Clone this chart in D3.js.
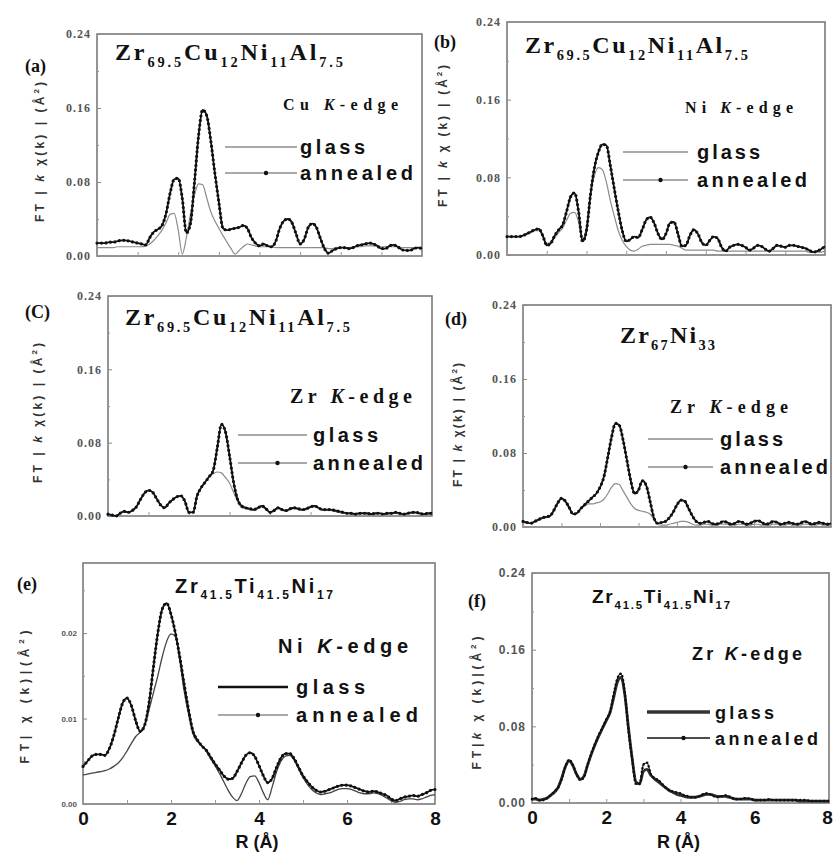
<!DOCTYPE html>
<html>
<head>
<meta charset="utf-8">
<script src="https://cdn.jsdelivr.net/npm/d3@7"></script>
<style>
  body { margin: 0; background: #fff; }
  svg { display: block; }
</style>
</head>
<body>
<div id="fig"></div>
<script>
// R grid (Å), 0.1 step
const rGrid = d3.range(81).map(i => i / 10);

// (a) Zr69.5Cu12Ni11Al7.5, Cu K-edge
const aGlass = [
  0.009,0.009,0.009,0.009,0.009,0.010,0.010,0.010,0.010,0.010,
  0.010,0.010,0.011,0.013,0.017,0.022,0.028,0.036,0.045,0.046,
  0.028,0.002,0.020,0.045,0.066,0.078,0.077,0.063,0.048,0.038,
  0.030,0.022,0.015,0.008,0.002,0.006,0.010,0.013,0.012,0.011,
  0.010,0.010,0.010,0.010,0.009,0.009,0.009,0.009,0.009,0.009,
  0.009,0.009,0.009,0.009,0.009,0.009,0.009,0.008,0.008,0.009,
  0.009,0.009,0.009,0.010,0.010,0.010,0.011,0.011,0.011,0.010,
  0.010,0.010,0.010,0.010,0.010,0.009,0.009,0.009,0.009,0.009,
  0.009];
const aAnnealed = [
  0.014,0.014,0.014,0.015,0.015,0.016,0.017,0.017,0.016,0.015,
  0.014,0.013,0.012,0.020,0.026,0.029,0.033,0.046,0.068,0.083,
  0.084,0.062,0.025,0.035,0.080,0.130,0.158,0.152,0.125,0.090,
  0.058,0.030,0.028,0.029,0.030,0.031,0.033,0.030,0.020,0.014,
  0.011,0.013,0.011,0.010,0.016,0.030,0.038,0.040,0.036,0.024,
  0.013,0.018,0.031,0.035,0.031,0.019,0.008,0.003,0.006,0.008,
  0.009,0.009,0.008,0.009,0.011,0.012,0.013,0.014,0.013,0.011,
  0.008,0.008,0.011,0.012,0.010,0.007,0.006,0.006,0.008,0.009,
  0.008];

// (b) Zr69.5Cu12Ni11Al7.5, Ni K-edge
const bGlass = [
  0.019,0.019,0.019,0.019,0.020,0.021,0.023,0.025,0.025,0.019,
  0.012,0.013,0.018,0.023,0.028,0.036,0.043,0.044,0.034,0.015,
  0.030,0.062,0.082,0.090,0.088,0.075,0.056,0.040,0.025,0.015,
  0.009,0.005,0.004,0.006,0.009,0.010,0.011,0.011,0.011,0.011,
  0.011,0.011,0.010,0.009,0.007,0.005,0.005,0.005,0.005,0.005,
  0.005,0.005,0.005,0.004,0.004,0.004,0.004,0.004,0.004,0.004,
  0.004,0.004,0.004,0.004,0.004,0.004,0.004,0.004,0.004,0.004,
  0.004,0.004,0.004,0.004,0.004,0.004,0.003,0.003,0.003,0.003,
  0.004];
const bAnnealed = [
  0.019,0.019,0.019,0.019,0.020,0.022,0.024,0.026,0.027,0.020,
  0.010,0.012,0.020,0.026,0.031,0.045,0.060,0.064,0.045,0.014,
  0.025,0.062,0.090,0.106,0.114,0.113,0.092,0.068,0.045,0.025,
  0.014,0.016,0.019,0.018,0.026,0.036,0.039,0.033,0.022,0.016,
  0.022,0.033,0.034,0.022,0.009,0.010,0.020,0.026,0.022,0.013,
  0.010,0.015,0.019,0.017,0.008,0.004,0.008,0.010,0.011,0.010,
  0.008,0.005,0.007,0.010,0.009,0.006,0.004,0.007,0.010,0.009,
  0.008,0.010,0.010,0.009,0.008,0.007,0.005,0.003,0.004,0.006,
  0.009];

// (c) Zr69.5Cu12Ni11Al7.5, Zr K-edge
const cGlass = [
  0.002,0.001,0.000,0.003,0.005,0.004,0.006,0.010,0.018,0.025,
  0.028,0.026,0.019,0.012,0.009,0.014,0.018,0.021,0.022,0.016,
  0.004,0.004,0.022,0.031,0.037,0.043,0.046,0.048,0.047,0.042,
  0.036,0.026,0.016,0.009,0.008,0.007,0.006,0.008,0.010,0.007,
  0.004,0.005,0.008,0.006,0.005,0.007,0.008,0.007,0.006,0.007,
  0.009,0.010,0.008,0.006,0.006,0.006,0.005,0.004,0.003,0.003,
  0.002,0.002,0.002,0.003,0.002,0.002,0.002,0.003,0.002,0.002,
  0.003,0.003,0.002,0.002,0.002,0.003,0.003,0.002,0.002,0.002,
  0.002];
const cAnnealed = [
  0.002,0.001,0.000,0.003,0.005,0.004,0.006,0.010,0.018,0.025,
  0.028,0.026,0.019,0.012,0.009,0.014,0.018,0.021,0.022,0.016,
  0.004,0.004,0.022,0.031,0.037,0.043,0.050,0.075,0.100,0.092,
  0.066,0.037,0.018,0.011,0.009,0.008,0.007,0.009,0.011,0.008,
  0.004,0.006,0.009,0.007,0.006,0.008,0.009,0.008,0.007,0.008,
  0.010,0.011,0.009,0.007,0.007,0.007,0.006,0.005,0.004,0.003,
  0.003,0.002,0.003,0.003,0.003,0.002,0.003,0.003,0.002,0.003,
  0.003,0.004,0.003,0.002,0.003,0.004,0.004,0.003,0.002,0.003,
  0.003];

// (d) Zr67Ni33, Zr K-edge
const dGlass = [
  0.005,0.004,0.004,0.005,0.007,0.009,0.010,0.011,0.017,0.025,
  0.030,0.027,0.020,0.014,0.015,0.019,0.023,0.025,0.025,0.026,
  0.027,0.030,0.036,0.043,0.047,0.046,0.039,0.032,0.025,0.020,
  0.018,0.017,0.016,0.014,0.008,0.003,0.002,0.002,0.003,0.004,
  0.005,0.006,0.006,0.005,0.003,0.002,0.002,0.003,0.003,0.002,
  0.002,0.003,0.003,0.003,0.002,0.002,0.003,0.003,0.002,0.002,
  0.003,0.003,0.002,0.002,0.002,0.003,0.003,0.002,0.002,0.003,
  0.002,0.002,0.002,0.003,0.003,0.002,0.002,0.003,0.002,0.002,
  0.002];
const dAnnealed = [
  0.006,0.005,0.004,0.006,0.008,0.010,0.011,0.012,0.018,0.026,
  0.031,0.028,0.021,0.014,0.015,0.020,0.024,0.028,0.032,0.036,
  0.043,0.054,0.075,0.097,0.112,0.110,0.094,0.072,0.050,0.036,
  0.040,0.050,0.045,0.028,0.010,0.004,0.005,0.006,0.010,0.016,
  0.024,0.029,0.028,0.020,0.012,0.006,0.004,0.005,0.006,0.004,
  0.003,0.004,0.006,0.005,0.003,0.004,0.006,0.005,0.003,0.004,
  0.006,0.007,0.005,0.003,0.004,0.006,0.005,0.003,0.004,0.005,
  0.004,0.003,0.004,0.006,0.005,0.003,0.004,0.005,0.004,0.003,
  0.004];

// (e) Zr41.5Ti41.5Ni17, Ni K-edge
const eGlass = [
  0.0034,0.0035,0.0036,0.0037,0.0038,0.0039,0.0041,0.0044,0.0048,0.0054,
  0.0062,0.0071,0.0079,0.0084,0.0092,0.0110,0.0130,0.0150,0.0172,0.0190,
  0.0199,0.0196,0.0168,0.0132,0.0105,0.0082,0.0073,0.0068,0.0062,0.0053,
  0.0045,0.0036,0.0026,0.0016,0.0008,0.0004,0.0012,0.0024,0.0032,0.0033,
  0.0025,0.0013,0.0005,0.0020,0.0038,0.0050,0.0056,0.0057,0.0051,0.0041,
  0.0031,0.0023,0.0017,0.0013,0.0011,0.0012,0.0013,0.0015,0.0017,0.0018,
  0.0018,0.0017,0.0015,0.0013,0.0012,0.0012,0.0013,0.0012,0.0010,0.0007,
  0.0004,0.0002,0.0003,0.0005,0.0006,0.0006,0.0005,0.0006,0.0008,0.0010,
  0.0011];
const eAnnealed = [
  0.0044,0.0050,0.0056,0.0058,0.0058,0.0057,0.0065,0.0080,0.0100,0.0118,
  0.0124,0.0115,0.0097,0.0085,0.0092,0.0118,0.0160,0.0200,0.0228,0.0235,
  0.0222,0.0200,0.0172,0.0140,0.0110,0.0085,0.0075,0.0068,0.0063,0.0055,
  0.0047,0.0040,0.0033,0.0029,0.0030,0.0038,0.0048,0.0057,0.0060,0.0056,
  0.0045,0.0033,0.0025,0.0030,0.0043,0.0054,0.0059,0.0059,0.0053,0.0043,
  0.0033,0.0026,0.0020,0.0016,0.0014,0.0015,0.0017,0.0019,0.0021,0.0022,
  0.0022,0.0021,0.0019,0.0017,0.0015,0.0014,0.0015,0.0014,0.0012,0.0010,
  0.0006,0.0004,0.0006,0.0008,0.0009,0.0010,0.0009,0.0011,0.0013,0.0016,
  0.0017];

// (f) Zr41.5Ti41.5Ni17, Zr K-edge
const fGlass = [
  0.004,0.004,0.003,0.004,0.005,0.008,0.011,0.016,0.026,0.038,
  0.044,0.039,0.030,0.025,0.028,0.040,0.051,0.061,0.070,0.078,
  0.086,0.094,0.110,0.126,0.131,0.113,0.078,0.046,0.022,0.020,
  0.033,0.035,0.029,0.025,0.022,0.019,0.016,0.013,0.011,0.009,
  0.008,0.007,0.006,0.006,0.006,0.007,0.008,0.009,0.009,0.008,
  0.007,0.007,0.007,0.006,0.005,0.004,0.004,0.004,0.004,0.004,
  0.003,0.003,0.003,0.003,0.003,0.003,0.003,0.003,0.003,0.003,
  0.003,0.003,0.002,0.002,0.002,0.002,0.002,0.002,0.002,0.002,
  0.002];
const fAnnealed = [
  0.004,0.005,0.003,0.003,0.005,0.008,0.012,0.016,0.025,0.038,
  0.045,0.040,0.030,0.024,0.027,0.040,0.052,0.062,0.071,0.079,
  0.087,0.095,0.113,0.130,0.135,0.115,0.075,0.045,0.020,0.020,
  0.040,0.042,0.030,0.026,0.024,0.020,0.016,0.013,0.012,0.011,
  0.010,0.008,0.007,0.006,0.006,0.007,0.009,0.010,0.009,0.007,
  0.006,0.007,0.008,0.007,0.005,0.004,0.004,0.005,0.005,0.004,
  0.003,0.003,0.003,0.003,0.004,0.003,0.003,0.003,0.003,0.003,
  0.003,0.003,0.003,0.003,0.003,0.002,0.002,0.002,0.002,0.002,
  0.002];

// tick values
const xTicks = [0, 1, 2, 3, 4, 5, 6, 7, 8];
const yTicksStd = [0, 0.08, 0.16, 0.24];
const yMinorStd = [0.04, 0.12, 0.20];
const yTicksE = [0, 0.01, 0.02];
const yMinorE = [0.005, 0.015, 0.025];

// text labels
const alloyCuNiAl = [["Zr"], ["69.5", "s"], ["Cu"], ["12", "s"], ["Ni"], ["11", "s"], ["Al"], ["7.5", "s"]];
const alloyZrNi = [["Zr"], ["67", "s"], ["Ni"], ["33", "s"]];
const alloyZrTiNi = [["Zr"], ["41.5", "s"], ["Ti"], ["41.5", "s"], ["Ni"], ["17", "s"]];
const legendNames = ["glass", "annealed"];

const W = 833, H = 859;
const SERIF = "'Liberation Serif', 'DejaVu Serif', serif";
const SANS = "'Liberation Sans', Arial, sans-serif";

const svg = d3.select("#fig").append("svg")
  .attr("width", W).attr("height", H)
  .attr("viewBox", `0 0 ${W} ${H}`);
svg.append("rect").attr("width", W).attr("height", H).attr("fill", "#fff");

function rich(sel, parts, o) {
  const t = sel.append("text")
    .attr("x", o.x).attr("y", o.y)
    .attr("font-family", o.family)
    .attr("font-weight", o.weight || "bold")
    .attr("font-size", o.size)
    .attr("fill", o.fill || "#111");
  if (o.len) t.attr("textLength", o.len).attr("lengthAdjust", "spacing");
  let shift = 0;
  parts.forEach(([s, k]) => {
    const sp = t.append("tspan").text(s);
    const want = k === "s" ? o.sub : 0;
    if (want !== shift) { sp.attr("dy", want - shift); shift = want; }
    if (k === "s") sp.attr("font-size", o.size * 0.6);
    if (k === "i") sp.attr("font-style", "italic");
  });
  return t;
}

const panels = [
  { label: "(a)", lab: [25, 72], glass: aGlass, annealed: aAnnealed,
    x0: 97, x1: 422, y0: 34, y1: 256, yMax: 0.24, yTicks: yTicksStd, yMinor: yMinorStd, fmt: ".2f",
    title: alloyCuNiAl, titlePos: [115, 60, 228, 24], titleFont: SERIF,
    edge: [["Cu "], ["K", "i"], ["-edge"]], edgePos: [283, 110, 115, 16], edgeFont: SERIF,
    leg: { x1: 225, x2: 297, y: 147, dy: 26, tx: 300, gl: 65, al: 113, size: 20 },
    yTitle: [["FT | "], ["k", "i"], [" χ(k) | (Å"], ["2", "p"], [")"]], yTitlePos: [40, 152, 140],
    style: "std", xLabels: false },
  { label: "(b)", lab: [434, 48], glass: bGlass, annealed: bAnnealed,
    x0: 507, x1: 825, y0: 22, y1: 255, yMax: 0.24, yTicks: yTicksStd, yMinor: yMinorStd, fmt: ".2f",
    title: alloyCuNiAl, titlePos: [525, 53, 223, 24], titleFont: SERIF,
    edge: [["Ni "], ["K", "i"], ["-edge"]], edgePos: [685, 113, 108, 16], edgeFont: SERIF,
    leg: { x1: 623, x2: 688, y: 152, dy: 28, tx: 697, gl: 63, al: 110, size: 20 },
    yTitle: [["FT | "], ["k", "i"], [" χ (k) | (Å"], ["2", "p"], [")"]], yTitlePos: [443, 136, 142],
    style: "std", xLabels: false },
  { label: "(C)", lab: [25, 318], glass: cGlass, annealed: cAnnealed,
    x0: 108, x1: 432, y0: 296, y1: 516, yMax: 0.24, yTicks: yTicksStd, yMinor: yMinorStd, fmt: ".2f",
    title: alloyCuNiAl, titlePos: [125, 325, 225, 24], titleFont: SERIF,
    edge: [["Zr "], ["K", "i"], ["-edge"]], edgePos: [290, 403, 122, 20], edgeFont: SERIF,
    leg: { x1: 238, x2: 307, y: 435, dy: 28, tx: 313, gl: 65, al: 110, size: 20 },
    yTitle: [["FT | "], ["k", "i"], [" χ(k) | (Å"], ["2", "p"], [")"]], yTitlePos: [38, 413, 140],
    style: "std", xLabels: false },
  { label: "(d)", lab: [445, 325], glass: dGlass, annealed: dAnnealed,
    x0: 523, x1: 831, y0: 305, y1: 527, yMax: 0.24, yTicks: yTicksStd, yMinor: yMinorStd, fmt: ".2f",
    title: alloyZrNi, titlePos: [620, 343, 95, 24], titleFont: SERIF,
    edge: [["Zr "], ["K", "i"], ["-edge"]], edgePos: [670, 413, 118, 18], edgeFont: SERIF,
    leg: { x1: 648, x2: 713, y: 439, dy: 28, tx: 720, gl: 63, al: 108, size: 20 },
    yTitle: [["FT | "], ["k", "i"], [" χ(k) | (Å"], ["2", "p"], [")"]], yTitlePos: [458, 425, 124],
    style: "std", xLabels: false },
  { label: "(e)", lab: [17, 590], glass: eGlass, annealed: eAnnealed,
    x0: 83, x1: 435, y0: 563, y1: 804, yMax: 0.0282, yTicks: yTicksE, yMinor: yMinorE, fmt: ".2f",
    title: alloyZrTiNi, titlePos: [175, 593, 158, 20], titleFont: SANS,
    edge: [["Ni "], ["K", "i"], ["-edge"]], edgePos: [278, 653, 130, 20], edgeFont: SANS,
    leg: { x1: 218, x2: 288, y: 687, dy: 28, tx: 296, gl: 69, al: 122, size: 20 },
    yTitle: [["FT|  χ (k)|(Å"], ["2", "p"], [")"]], yTitlePos: [25, 697, 133],
    style: "e", xLabels: true },
  { label: "(f)", lab: [468, 607], glass: fGlass, annealed: fAnnealed,
    x0: 532, x1: 829, y0: 573, y1: 803, yMax: 0.24, yTicks: yTicksStd, yMinor: yMinorStd, fmt: ".2f",
    title: alloyZrTiNi, titlePos: [592, 603, 138, 19], titleFont: SANS,
    edge: [["Zr "], ["K", "i"], ["-edge"]], edgePos: [692, 660, 110, 18], edgeFont: SANS,
    leg: { x1: 647, x2: 710, y: 712, dy: 26, tx: 715, gl: 59, al: 103, size: 18 },
    yTitle: [["FT|"], ["k", "i"], [" χ (k)|(Å"], ["2", "p"], [")"]], yTitlePos: [477, 703, 133],
    style: "f", xLabels: true }
];

panels.forEach(p => {
  const g = svg.append("g");
  const x = d3.scaleLinear().domain([0, 8]).range([p.x0, p.x1]);
  const y = d3.scaleLinear().domain([0, p.yMax]).range([p.y1, p.y0]);

  // frame
  g.append("rect")
    .attr("x", p.x0).attr("y", p.y0)
    .attr("width", p.x1 - p.x0).attr("height", p.y1 - p.y0)
    .attr("fill", "none").attr("stroke", "#7a7a7a").attr("stroke-width", 1.6);

  // y axis
  const ya = g.append("g").attr("transform", `translate(${p.x0},0)`)
    .call(d3.axisLeft(y).tickValues(p.yTicks).tickSize(-4).tickPadding(6).tickFormat(d3.format(p.fmt)));
  g.append("g").attr("transform", `translate(${p.x0},0)`)
    .call(d3.axisLeft(y).tickValues(p.yMinor).tickSize(-2).tickFormat(""))
    .call(s => s.select(".domain").remove())
    .selectAll("line").attr("stroke", "#999");
  ya.select(".domain").remove();
  ya.selectAll("line").attr("stroke", "#888");
  ya.selectAll("text")
    .attr("font-family", p.style === "std" ? SERIF : SANS)
    .attr("font-weight", "bold")
    .attr("font-size", p.style === "e" ? 8 : 12)
    .attr("letter-spacing", p.style === "e" ? 0 : 1)
    .attr("fill", "#555");

  // x axis
  const xa = g.append("g").attr("transform", `translate(0,${p.y1})`)
    .call(d3.axisBottom(x).tickValues(xTicks).tickSize(-4).tickPadding(8)
      .tickFormat(d => p.xLabels && d % 2 === 0 ? d : ""));
  xa.select(".domain").remove();
  xa.selectAll("line").attr("stroke", "#999");
  xa.selectAll("text")
    .attr("font-family", SANS).attr("font-weight", "bold")
    .attr("font-size", 19).attr("fill", "#111")
    .attr("dx", d => (x(d) + 6 > W ? -(x(d) + 6 - W) : 0));

  if (p.xLabels) {
    rich(g, [["R (Å)"]], { x: (p.x0 + p.x1) / 2 - 2, y: 848, size: 18, family: SANS, sub: 0 })
      .attr("text-anchor", "middle");
  }

  // curves
  const line = d3.line()
    .x((d, i) => x(rGrid[i]))
    .y(d => y(d))
    .curve(d3.curveMonotoneX);

  if (p.style === "f") {
    g.append("path").attr("d", line(p.glass))
      .attr("fill", "none").attr("stroke", "#333").attr("stroke-width", 2.8);
    g.append("path").attr("d", line(p.annealed))
      .attr("fill", "none").attr("stroke", "#111").attr("stroke-width", 1.2);
    g.append("path").attr("d", line(p.annealed))
      .attr("fill", "none").attr("stroke", "#111").attr("stroke-width", 2.6)
      .attr("stroke-linecap", "round").attr("stroke-dasharray", "0 4");
  } else {
    g.append("path").attr("d", line(p.glass))
      .attr("fill", "none")
      .attr("stroke", p.style === "e" ? "#444" : "#8c8c8c")
      .attr("stroke-width", p.style === "e" ? 1.3 : 1.2);
    g.append("path").attr("d", line(p.annealed))
      .attr("fill", "none").attr("stroke", "#111").attr("stroke-width", 1.8);
    g.append("path").attr("d", line(p.annealed))
      .attr("fill", "none").attr("stroke", "#111").attr("stroke-width", 3.2)
      .attr("stroke-linecap", "round").attr("stroke-dasharray", "0 4.5");
  }

  // panel label
  rich(g, [[p.label]], { x: p.lab[0], y: p.lab[1], size: 18, family: SERIF, sub: 0 });

  // alloy title
  const [tx, ty, tl, ts] = p.titlePos;
  rich(g, p.title, { x: tx, y: ty, len: tl, size: ts, family: p.titleFont, sub: ts * 0.3 });

  // edge label
  const [ex, ey, el, es] = p.edgePos;
  rich(g, p.edge, { x: ex, y: ey, len: el, size: es, family: p.edgeFont, sub: 0 });

  // legend
  const L = p.leg;
  const glassStroke = p.style === "e" ? "#111" : p.style === "f" ? "#333" : "#8c8c8c";
  const glassWidth = p.style === "e" ? 2.6 : p.style === "f" ? 3.4 : 1.3;
  const annStroke = p.style === "f" ? "#111" : "#8c8c8c";
  g.append("line").attr("x1", L.x1).attr("x2", L.x2).attr("y1", L.y).attr("y2", L.y)
    .attr("stroke", glassStroke).attr("stroke-width", glassWidth);
  g.append("line").attr("x1", L.x1).attr("x2", L.x2).attr("y1", L.y + L.dy).attr("y2", L.y + L.dy)
    .attr("stroke", annStroke).attr("stroke-width", 1.3);
  g.append("circle").attr("cx", (L.x1 + L.x2) / 2 + 5).attr("cy", L.y + L.dy).attr("r", 2.2)
    .attr("fill", "#111");
  rich(g, [[legendNames[0]]], { x: L.tx, y: L.y + 7, len: L.gl, size: L.size, family: SANS, sub: 0 });
  rich(g, [[legendNames[1]]], { x: L.tx, y: L.y + L.dy + 7, len: L.al, size: L.size, family: SANS, sub: 0 });

  // y axis title
  const [yx, yy, yl] = p.yTitlePos;
  const yt = g.append("text")
    .attr("transform", `translate(${yx + 4},${yy}) rotate(-90)`)
    .attr("text-anchor", "middle")
    .attr("font-family", SANS).attr("font-size", 12).attr("font-weight", "bold")
    .attr("fill", "#333")
    .attr("textLength", yl).attr("lengthAdjust", "spacing");
  let sup = 0;
  p.yTitle.forEach(([s, k]) => {
    const sp = yt.append("tspan").text(s);
    if (k === "i") sp.attr("font-style", "italic");
    if (k === "p") { sp.attr("dy", -5).attr("font-size", 8); sup = 5; }
    else if (sup) { sp.attr("dy", sup); sup = 0; }
  });
});
</script>
</body>
</html>
